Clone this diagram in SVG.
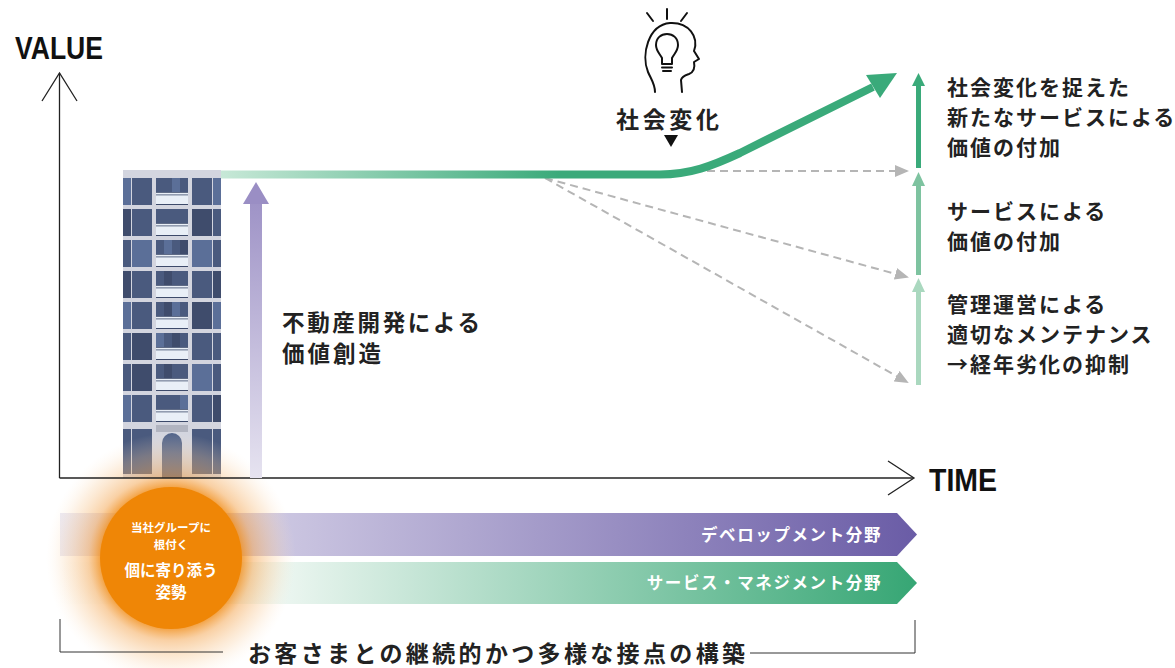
<svg xmlns="http://www.w3.org/2000/svg" width="1175" height="668" viewBox="0 0 1175 668">
  <style>
    .jp { font-family: "Noto Sans CJK JP", "Noto Sans", sans-serif; font-weight: 700; fill: #222; }
    .lbl { font-size: 21px; letter-spacing: 2px; }
    .bar-t { font-family: "Noto Sans CJK JP", sans-serif; font-weight: 700; font-size: 16.5px; fill: #fff; letter-spacing: 1.6px; text-anchor: end; }
    .circ-t { font-family: "Noto Sans CJK JP", sans-serif; font-weight: 700; fill: #fff; text-anchor: middle; }
    .axis-t { font-family: "Liberation Sans", "DejaVu Sans", sans-serif; font-weight: 700; fill: #111; }
    .axis { stroke: #222; stroke-width: 1.3; fill: none; }
    .dash { stroke: #b5b5b5; stroke-width: 2; stroke-dasharray: 8 5; fill: none; marker-end: url(#grayHead); }
    .bracket { stroke: #333; stroke-width: 1; fill: none; }
    .frame { fill: #d3d5df; }
    .w1 { fill: #4a5a7e; }
    .w2 { fill: #3f4c6c; }
    .w3 { fill: #5b6f98; }
    .rail { fill: #e9eff7; }
    .stripe { fill: #3d4a6a; }
  </style>
  <defs>
    <marker id="grayHead" markerUnits="userSpaceOnUse" markerWidth="14" markerHeight="12" refX="12" refY="6" orient="auto">
      <path d="M0,0 L14,6 L0,12 z" fill="#b5b5b5"/>
    </marker>
    <linearGradient id="lineGrad" gradientUnits="userSpaceOnUse" x1="221" y1="0" x2="560" y2="0">
      <stop offset="0" stop-color="#c7e8d7"/>
      <stop offset="1" stop-color="#3aaa7a"/>
    </linearGradient>
    <linearGradient id="purpleUp" gradientUnits="userSpaceOnUse" x1="0" y1="185" x2="0" y2="478">
      <stop offset="0" stop-color="#9a8ec4"/>
      <stop offset="1" stop-color="#e6e3f0"/>
    </linearGradient>
    <linearGradient id="devGrad" gradientUnits="userSpaceOnUse" x1="60" y1="0" x2="917" y2="0">
      <stop offset="0" stop-color="#ebe9f3"/>
      <stop offset="0.3" stop-color="#c6c0de"/>
      <stop offset="1" stop-color="#6a5ca6"/>
    </linearGradient>
    <linearGradient id="svcGrad" gradientUnits="userSpaceOnUse" x1="60" y1="0" x2="917" y2="0">
      <stop offset="0" stop-color="#ffffff"/>
      <stop offset="0.25" stop-color="#eef7f2"/>
      <stop offset="1" stop-color="#36a674"/>
    </linearGradient>
    <radialGradient id="glow" gradientUnits="userSpaceOnUse" cx="171" cy="558" r="125">
      <stop offset="0.55" stop-color="#f08a12" stop-opacity="0.85"/>
      <stop offset="0.66" stop-color="#f3a24a" stop-opacity="0.5"/>
      <stop offset="0.84" stop-color="#f8c994" stop-opacity="0.28"/>
      <stop offset="1" stop-color="#fde9d3" stop-opacity="0"/>
    </radialGradient>
  </defs>

  <!-- field bars -->
  <g id="bar-development">
    <polygon points="60,513 897,513 917,534.5 897,556 60,556" fill="url(#devGrad)"/>
    <text class="bar-t" x="882" y="541">デベロップメント分野</text>
  </g>
  <g id="bar-service">
    <polygon points="60,562 897,562 917,583 897,604 60,604" fill="url(#svcGrad)"/>
    <text class="bar-t" x="882" y="589">サービス・マネジメント分野</text>
  </g>

  <!-- building -->
  <g id="building">
    <rect class="frame" x="123" y="170" width="98" height="308"/>
    <g id="floors">
      <g transform="translate(0,178)">
        <rect class="w3" x="123" y="0" width="8" height="27"/><rect class="w1" x="132" y="0" width="20" height="27"/>
        <rect class="w1" x="156" y="0" width="32" height="14"/><rect class="w3" x="172" y="0" width="8" height="14"/>
        <rect class="rail" x="156" y="14" width="32" height="13"/><rect class="stripe" x="156" y="14" width="32" height="0.8"/><rect class="stripe" x="156" y="16.5" width="32" height="0.8"/><rect class="stripe" x="156" y="26" width="32" height="1"/>
        <rect class="w1" x="192" y="0" width="20" height="27"/><rect class="w3" x="213" y="0" width="8" height="27"/>
      </g>
      <g transform="translate(0,209)">
        <rect class="w2" x="123" y="0" width="8" height="27"/><rect class="w1" x="132" y="0" width="20" height="27"/>
        <rect class="w1" x="156" y="0" width="32" height="14"/>
        <rect class="rail" x="156" y="14" width="32" height="13"/><rect class="stripe" x="156" y="14" width="32" height="0.8"/><rect class="stripe" x="156" y="16.5" width="32" height="0.8"/><rect class="stripe" x="156" y="26" width="32" height="1"/>
        <rect class="w2" x="192" y="0" width="20" height="27"/><rect class="w1" x="213" y="0" width="8" height="27"/>
      </g>
      <g transform="translate(0,240)">
        <rect class="w1" x="123" y="0" width="8" height="27"/><rect class="w3" x="132" y="0" width="20" height="27"/>
        <rect class="w1" x="156" y="0" width="32" height="14"/><rect class="w3" x="164" y="0" width="8" height="14"/><rect class="w2" x="180" y="0" width="8" height="14"/>
        <rect class="rail" x="156" y="14" width="32" height="13"/><rect class="stripe" x="156" y="14" width="32" height="0.8"/><rect class="stripe" x="156" y="16.5" width="32" height="0.8"/><rect class="stripe" x="156" y="26" width="32" height="1"/>
        <rect class="w3" x="192" y="0" width="20" height="27"/><rect class="w1" x="213" y="0" width="8" height="27"/>
      </g>
      <g transform="translate(0,271)">
        <rect class="w2" x="123" y="0" width="8" height="27"/><rect class="w1" x="132" y="0" width="20" height="27"/>
        <rect class="w1" x="156" y="0" width="32" height="14"/><rect class="w2" x="164" y="0" width="8" height="14"/>
        <rect class="rail" x="156" y="14" width="32" height="13"/><rect class="stripe" x="156" y="14" width="32" height="0.8"/><rect class="stripe" x="156" y="16.5" width="32" height="0.8"/><rect class="stripe" x="156" y="26" width="32" height="1"/>
        <rect class="w1" x="192" y="0" width="20" height="27"/><rect class="w2" x="213" y="0" width="8" height="27"/>
      </g>
      <g transform="translate(0,302)">
        <rect class="w3" x="123" y="0" width="8" height="27"/><rect class="w1" x="132" y="0" width="20" height="27"/>
        <rect class="w1" x="156" y="0" width="32" height="14"/><rect class="w2" x="164" y="0" width="8" height="14"/><rect class="w3" x="172" y="0" width="8" height="14"/>
        <rect class="rail" x="156" y="14" width="32" height="13"/><rect class="stripe" x="156" y="14" width="32" height="0.8"/><rect class="stripe" x="156" y="16.5" width="32" height="0.8"/><rect class="stripe" x="156" y="26" width="32" height="1"/>
        <rect class="w2" x="192" y="0" width="20" height="27"/><rect class="w3" x="213" y="0" width="8" height="27"/>
      </g>
      <g transform="translate(0,333)">
        <rect class="w1" x="123" y="0" width="8" height="27"/><rect class="w2" x="132" y="0" width="20" height="27"/>
        <rect class="w1" x="156" y="0" width="32" height="14"/><rect class="w3" x="156" y="0" width="8" height="14"/><rect class="w2" x="172" y="0" width="8" height="14"/>
        <rect class="rail" x="156" y="14" width="32" height="13"/><rect class="stripe" x="156" y="14" width="32" height="0.8"/><rect class="stripe" x="156" y="16.5" width="32" height="0.8"/><rect class="stripe" x="156" y="26" width="32" height="1"/>
        <rect class="w1" x="192" y="0" width="20" height="27"/><rect class="w1" x="213" y="0" width="8" height="27"/>
      </g>
      <g transform="translate(0,364)">
        <rect class="w1" x="123" y="0" width="8" height="27"/><rect class="w2" x="132" y="0" width="20" height="27"/>
        <rect class="w1" x="156" y="0" width="32" height="14"/><rect class="w2" x="164" y="0" width="8" height="14"/>
        <rect class="rail" x="156" y="14" width="32" height="13"/><rect class="stripe" x="156" y="14" width="32" height="0.8"/><rect class="stripe" x="156" y="16.5" width="32" height="0.8"/><rect class="stripe" x="156" y="26" width="32" height="1"/>
        <rect class="w3" x="192" y="0" width="20" height="27"/><rect class="w1" x="213" y="0" width="8" height="27"/>
      </g>
      <g transform="translate(0,395)">
        <rect class="w3" x="123" y="0" width="8" height="27"/><rect class="w1" x="132" y="0" width="20" height="27"/>
        <rect class="w1" x="156" y="0" width="32" height="14"/><rect class="w3" x="180" y="0" width="8" height="14"/>
        <rect class="rail" x="156" y="14" width="32" height="13"/><rect class="stripe" x="156" y="14" width="32" height="0.8"/><rect class="stripe" x="156" y="16.5" width="32" height="0.8"/><rect class="stripe" x="156" y="26" width="32" height="1"/>
        <rect class="w1" x="192" y="0" width="20" height="27"/><rect class="w2" x="213" y="0" width="8" height="27"/>
      </g>
    </g>
    <!-- ground floor -->
    <rect class="w1" x="123" y="429" width="8" height="45"/>
    <rect class="w1" x="132" y="429" width="20" height="45"/>
    <rect x="156" y="425" width="32" height="7" fill="#b1b4c0"/>
    <path d="M162,478 V443 A10,10 0 0 1 182,443 V478 z" fill="#52648a"/>
    <rect class="w1" x="192" y="429" width="20" height="45"/>
    <rect class="w1" x="213" y="429" width="8" height="45"/>
  </g>

  <!-- glow around the core circle -->
  <circle cx="171" cy="558" r="125" fill="url(#glow)"/>

  <!-- axes -->
  <g id="axes">
    <path class="axis" d="M59.5,478 V73"/>
    <path class="axis" d="M42,101 L59.5,73 L77,101"/>
    <path class="axis" d="M59.5,478 H913"/>
    <path class="axis" d="M888,461 L914,478 L888,495"/>
    <text class="axis-t" x="15" y="59" font-size="31" textLength="88" lengthAdjust="spacingAndGlyphs">VALUE</text>
    <text class="axis-t" x="929" y="491" font-size="31" textLength="68" lengthAdjust="spacingAndGlyphs">TIME</text>
  </g>

  <!-- connectors -->
  <g id="connectors">
    <path class="dash" d="M707,171 H907"/>
    <path class="dash" d="M545,178 L907,277"/>
    <path class="dash" d="M545,178 L907,382"/>
    <path d="M221,174.5 H660 C690,174.5 712,166 740,153 L873,87" fill="none" stroke="url(#lineGrad)" stroke-width="8"/>
    <polygon points="897,73 866,75 880,98" fill="#3aaa7a"/>
    <rect x="250" y="202" width="12" height="276" fill="url(#purpleUp)"/>
    <polygon points="243,204 256,182 269,204" fill="#9a8ec4"/>
    <rect x="916" y="84" width="5" height="84" fill="#3aaa7a"/>
    <polygon points="912,86 918.5,73 925,86" fill="#3aaa7a"/>
    <rect x="916" y="184" width="5" height="91" fill="#7ec3a0"/>
    <polygon points="912,186 918.5,172 925,186" fill="#7ec3a0"/>
    <rect x="916" y="290" width="5" height="95" fill="#aad8bf"/>
    <polygon points="912,292 918.5,278 925,292" fill="#aad8bf"/>
  </g>

  <!-- social change marker -->
  <g id="social-change">
    <g fill="none" stroke="#111" stroke-width="2" stroke-linecap="round" stroke-linejoin="round">
      <path d="M647,13 L653,21 M667,9 V19 M687,13 L681,21"/>
      <path d="M655,92 C655,84 651,79 648,72 C641,55 648,25 670,23 C689,22 699,37 694,51 L699,59 L694,62 C695,67 694,72 689,74 C686,75 682,76 681,80 L682,92"/>
      <path d="M662,64 V58 C660,54 656,51 656,45 C656,38 661,34 667,34 C673,34 678,38 678,45 C678,51 674,54 672,58 V64 z"/>
      <path d="M662,67.5 H672 M663,71 H671"/>
    </g>
    <text class="jp" x="616" y="128" font-size="23" textLength="103" lengthAdjust="spacing">社会変化</text>
    <polygon points="664,135 678,135 671,147" fill="#111"/>
  </g>

  <!-- labels -->
  <g id="label-development">
    <text class="jp" x="282" y="331" font-size="22.5" textLength="198" lengthAdjust="spacing">不動産開発による</text>
    <text class="jp" x="282" y="362" font-size="22.5" textLength="99" lengthAdjust="spacing">価値創造</text>
  </g>
  <g id="label-new-service">
    <text class="jp lbl" x="947" y="95">社会変化を捉えた</text>
    <text class="jp lbl" x="947" y="125">新たなサービスによる</text>
    <text class="jp lbl" x="947" y="155">価値の付加</text>
  </g>
  <g id="label-service">
    <text class="jp lbl" x="947" y="219">サービスによる</text>
    <text class="jp lbl" x="947" y="249">価値の付加</text>
  </g>
  <g id="label-management">
    <text class="jp lbl" x="947" y="312">管理運営による</text>
    <text class="jp lbl" x="947" y="342">適切なメンテナンス</text>
    <text class="jp lbl" x="947" y="372">→経年劣化の抑制</text>
  </g>

  <!-- core circle -->
  <g id="core">
    <circle cx="171" cy="558" r="71" fill="#ef8606"/>
    <text class="circ-t" x="171" y="532" font-size="11.5">当社グループに</text>
    <text class="circ-t" x="171" y="549" font-size="11.5">根付く</text>
    <text class="circ-t" x="171" y="576" font-size="15.5">個に寄り添う</text>
    <text class="circ-t" x="171" y="598" font-size="15.5">姿勢</text>
  </g>

  <!-- bottom bracket -->
  <g id="touchpoints">
    <path class="bracket" d="M60,619 V652 H223"/>
    <path class="bracket" d="M750,653 H915 V620"/>
    <text class="jp" x="248" y="662" font-size="23" textLength="497" lengthAdjust="spacing">お客さまとの継続的かつ多様な接点の構築</text>
  </g>
</svg>
